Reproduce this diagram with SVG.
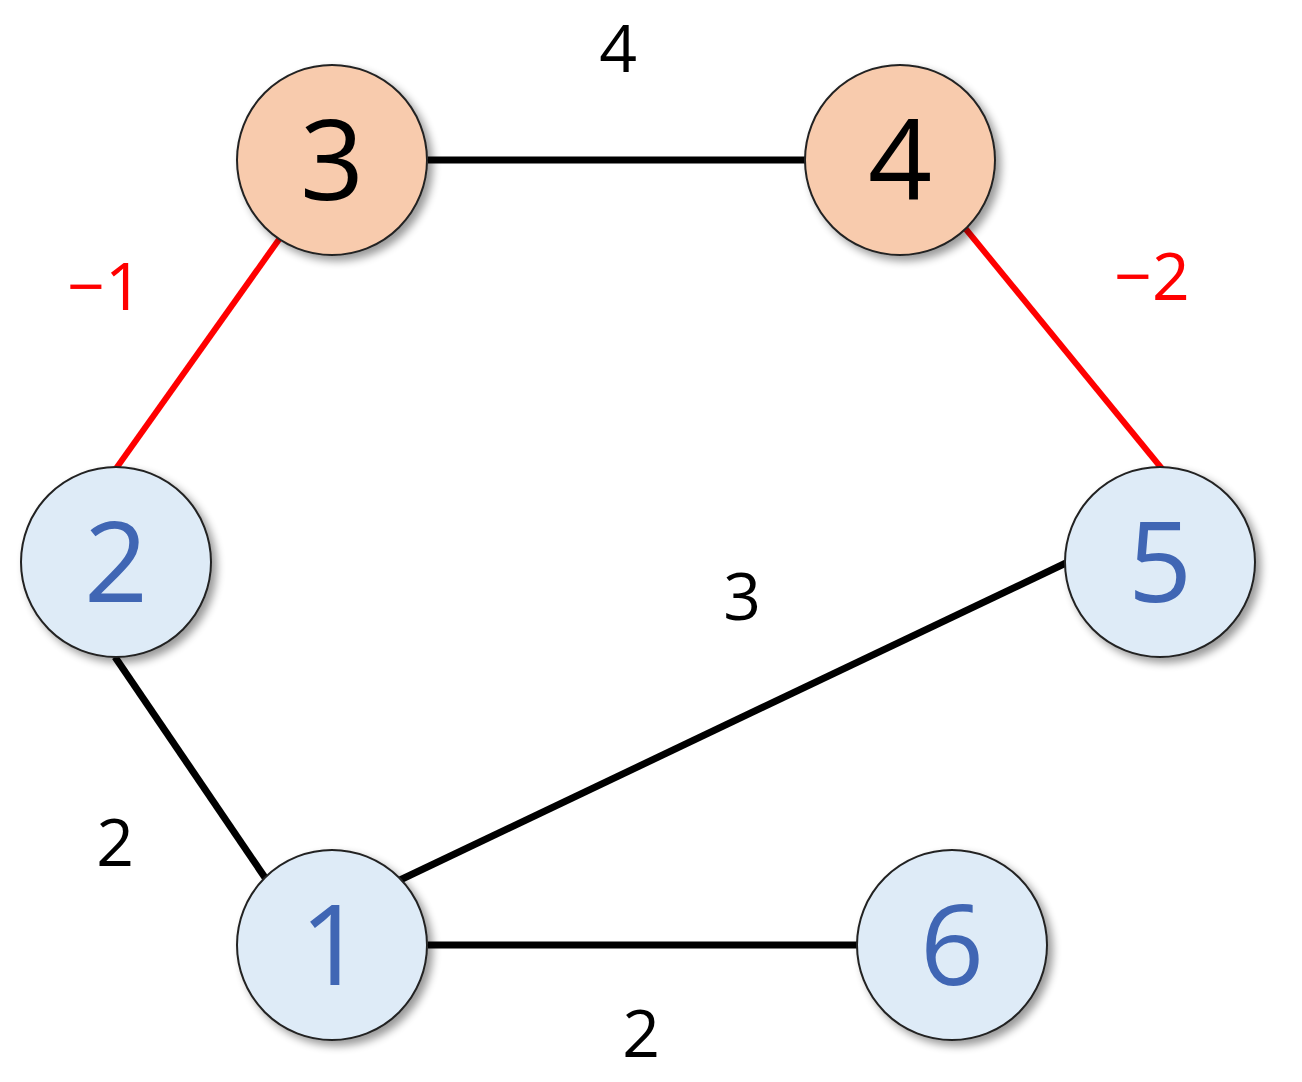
<svg xmlns="http://www.w3.org/2000/svg" width="1302" height="1082" viewBox="0 0 1302 1082">
<style>
.n{stroke:#222;stroke-width:2;filter:url(#sh)}
.o{fill:#F8CBAD}
.b{fill:#DEEBF7}
.t{font-family:"Open Sans","Liberation Sans",sans-serif;font-size:112px;text-anchor:middle}
.tb{fill:#4066B4}
.tk{fill:#000}
.e{stroke:#000;stroke-width:7}
.r{stroke:#FF0000;stroke-width:6}
.l{font-family:"Open Sans","Liberation Sans",sans-serif;font-size:66px;text-anchor:middle}
</style>
<defs>
<filter id="sh" x="-20%" y="-20%" width="150%" height="150%">
<feGaussianBlur in="SourceAlpha" stdDeviation="4"/>
<feOffset dx="5" dy="5" result="o"/>
<feComponentTransfer><feFuncA type="linear" slope="0.4"/></feComponentTransfer>
<feMerge><feMergeNode/><feMergeNode in="SourceGraphic"/></feMerge>
</filter>
</defs>
<rect width="1302" height="1082" fill="#fff"/>
<g id="connectors">
<line class="e" x1="428" y1="160" x2="808" y2="160"/>
<line class="r" x1="280" y1="238" x2="115" y2="470"/>
<line class="r" x1="965" y1="228" x2="1163" y2="470"/>
<line class="e" x1="115" y1="657" x2="268" y2="882"/>
<line class="e" x1="400" y1="880" x2="1068" y2="562"/>
<line class="e" x1="428" y1="945" x2="858" y2="945"/>
<text class="l" x="618" y="72">4</text>
<text class="l" x="105" y="310" fill="#FF0000">−1</text>
<text class="l" x="1152" y="300" fill="#FF0000">−2</text>
<text class="l" x="742" y="620">3</text>
<text class="l" x="115" y="866">2</text>
<text class="l" x="641" y="1057">2</text>
</g>
<g id="node3"><circle class="n o" cx="332" cy="160" r="95"/><text class="t tk" x="332" y="200">3</text></g>
<g id="node4"><circle class="n o" cx="900" cy="160" r="95"/><text class="t tk" x="900" y="200">4</text></g>
<g id="node2"><circle class="n b" cx="116" cy="562" r="95"/><text class="t tb" x="116" y="602">2</text></g>
<g id="node5"><circle class="n b" cx="1160" cy="562" r="95"/><text class="t tb" x="1160" y="602">5</text></g>
<g id="node1"><circle class="n b" cx="332" cy="945" r="95"/><text class="t tb" x="332" y="985">1</text></g>
<g id="node6"><circle class="n b" cx="952" cy="945" r="95"/><text class="t tb" x="952" y="985">6</text></g>
</svg>
